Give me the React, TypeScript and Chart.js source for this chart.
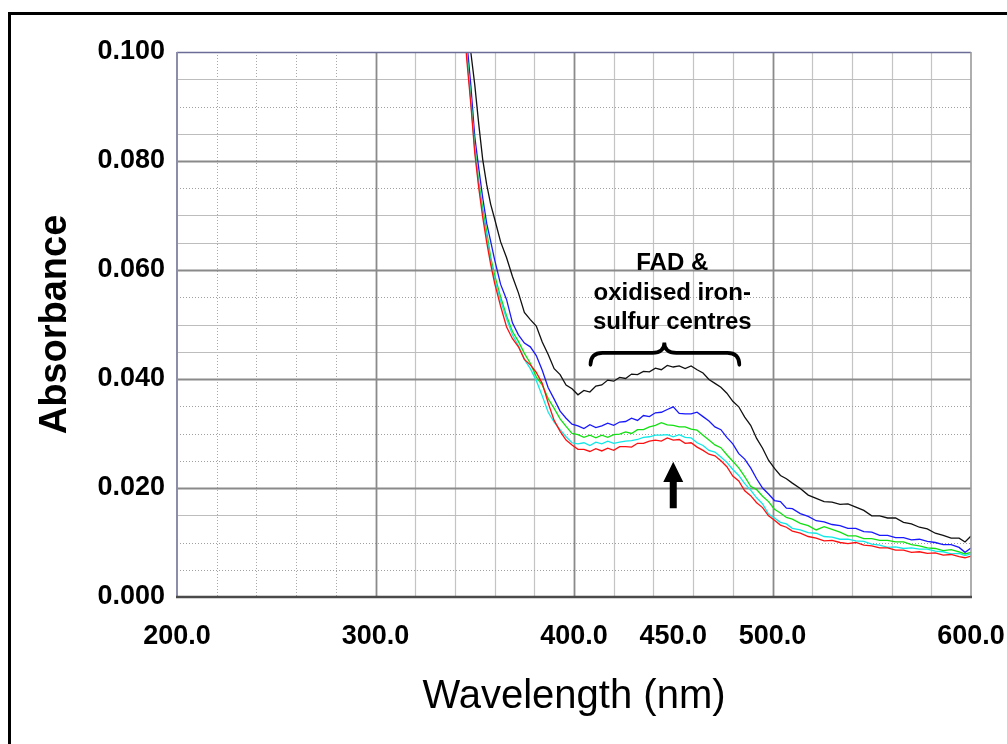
import React, { useEffect, useRef } from "react";
import { Chart, registerables } from "chart.js";

Chart.register(...registerables);

const FONT = '"Liberation Sans", Arial, Helvetica, sans-serif';

const wavelengths = [
  342, 346, 348, 350, 352, 354, 356, 358, 360,
  363, 366, 369, 372, 375, 378, 381, 384, 387, 390,
  393, 396, 399, 402, 405, 408, 411, 414, 417, 420,
  423, 426, 429, 432, 435, 438, 441, 444, 447, 450,
  453, 456, 459, 462, 465, 468, 471, 474, 477, 480,
  483, 486, 489, 492, 495, 498, 501, 504, 507, 510,
  514, 518, 522, 526, 530, 534, 538, 542, 546, 550,
  554, 558, 562, 566, 570, 574, 578, 582, 586, 590,
  594, 597, 600,
];

const blackSeries = [
  0.125, 0.107, 0.1, 0.094, 0.0868, 0.0803, 0.0757, 0.0721, 0.0694,
  0.0652, 0.0623, 0.0588, 0.0558, 0.0522, 0.0509, 0.0497, 0.0468, 0.0445, 0.0419,
  0.0408, 0.0389, 0.0382, 0.0371, 0.0379, 0.0376, 0.0387, 0.0389, 0.0398, 0.0396,
  0.0403, 0.0401, 0.0409, 0.0408, 0.0414, 0.0413, 0.042, 0.0417, 0.0425, 0.0422,
  0.0424, 0.0419, 0.0424, 0.0417, 0.0411, 0.0399, 0.0392, 0.0385, 0.0374, 0.0359,
  0.0349, 0.033, 0.0315, 0.0291, 0.0273, 0.0251, 0.0236, 0.0223, 0.0217, 0.0209,
  0.0199, 0.0187, 0.0181, 0.0175, 0.0174, 0.017, 0.0171, 0.0165, 0.0159, 0.0149,
  0.0149, 0.0145, 0.0145, 0.0137, 0.0134, 0.0128, 0.0125, 0.0117, 0.0113, 0.0108,
  0.0108, 0.0101, 0.0112,
];

const blueSeries = [
  0.122, 0.102, 0.094, 0.0845, 0.0787, 0.0733, 0.0686, 0.0653, 0.0619,
  0.0574, 0.0546, 0.0503, 0.0481, 0.0466, 0.0459, 0.0443, 0.0416, 0.0384, 0.0363,
  0.0341, 0.0328, 0.0317, 0.0314, 0.0309, 0.0316, 0.0311, 0.0314, 0.0319, 0.0315,
  0.0321, 0.0322, 0.0328, 0.0324, 0.0333, 0.0331, 0.0338, 0.0339, 0.0344, 0.0349,
  0.0337, 0.0336, 0.0336, 0.0339, 0.0331, 0.0323, 0.0312, 0.0307, 0.0293, 0.0281,
  0.0263, 0.0253, 0.0237, 0.0217, 0.02, 0.0189, 0.0177, 0.0175, 0.0163, 0.0162,
  0.0153, 0.0148, 0.014, 0.0138, 0.0133, 0.0131, 0.0126, 0.0126, 0.012, 0.0119,
  0.0113, 0.0113, 0.0109, 0.0109, 0.0105, 0.0106, 0.0102, 0.01, 0.0096, 0.0096,
  0.0091, 0.0082, 0.009,
];

const greenSeries = [
  0.121, 0.1, 0.0915, 0.0826, 0.0762, 0.0713, 0.0671, 0.0624, 0.0591,
  0.0551, 0.0516, 0.0487, 0.0469, 0.0447, 0.0429, 0.0404, 0.0389, 0.0364, 0.0346,
  0.0327, 0.0313, 0.03, 0.0298, 0.0293, 0.0297, 0.0292, 0.0297, 0.0293, 0.0298,
  0.0299, 0.0303, 0.03, 0.0307, 0.0307, 0.0312, 0.0315, 0.032, 0.0316, 0.0315,
  0.0312, 0.0312, 0.0308, 0.0306, 0.0297, 0.0288, 0.0279, 0.0274, 0.0261, 0.0249,
  0.0237, 0.0221, 0.0203, 0.0197, 0.0185, 0.0175, 0.0161, 0.0154, 0.0146, 0.0143,
  0.0135, 0.0131, 0.0123, 0.0129, 0.0124, 0.0119, 0.0112, 0.0112, 0.0107, 0.0107,
  0.0104, 0.0104, 0.0101, 0.0101, 0.0096, 0.0094, 0.009, 0.0089, 0.0085, 0.0087,
  0.0083, 0.0079, 0.0082,
];

const cyanSeries = [
  0.12, 0.0995, 0.091, 0.082, 0.0756, 0.0704, 0.0661, 0.0617, 0.0583,
  0.0544, 0.0511, 0.0481, 0.0461, 0.0436, 0.0419, 0.0397, 0.0369, 0.0339, 0.0321,
  0.0307, 0.0294, 0.0283, 0.0281, 0.0283, 0.0278, 0.0284, 0.0281, 0.0286, 0.0282,
  0.0284, 0.0286, 0.0287, 0.0289, 0.0293, 0.0294, 0.0297, 0.0297, 0.0298, 0.0294,
  0.0298, 0.0293, 0.0292, 0.0283, 0.0278, 0.0269, 0.0266, 0.0257, 0.0247, 0.0234,
  0.0223, 0.0208, 0.0196, 0.0182, 0.0171, 0.0152, 0.0145, 0.0137, 0.0134, 0.0126,
  0.0123, 0.0118, 0.0117, 0.0111, 0.011, 0.0106, 0.0106, 0.0103, 0.0102, 0.0097,
  0.0095, 0.0091, 0.0092, 0.0089, 0.009, 0.0088, 0.0088, 0.0084, 0.0083, 0.0079,
  0.008, 0.0076, 0.0079,
];

const redSeries = [
  0.119, 0.0985, 0.0905, 0.0815, 0.0751, 0.0697, 0.0651, 0.0611, 0.0576,
  0.0534, 0.0496, 0.0474, 0.0459, 0.0436, 0.0426, 0.0412, 0.0392, 0.0356, 0.0324,
  0.0304, 0.0288, 0.0279, 0.0271, 0.0271, 0.0267, 0.0272, 0.0268, 0.0273, 0.0269,
  0.0276, 0.0276, 0.0275, 0.0282, 0.0282, 0.0286, 0.0288, 0.0286, 0.0292, 0.0288,
  0.0289, 0.0282, 0.0283, 0.0275, 0.0269, 0.0262, 0.0259, 0.025, 0.0239, 0.0222,
  0.0213, 0.0195, 0.0186, 0.0173, 0.0164, 0.0149, 0.0141, 0.0132, 0.0128, 0.0121,
  0.0117, 0.0111, 0.0108, 0.0103, 0.0104, 0.01, 0.0098, 0.01, 0.0095, 0.0094,
  0.009, 0.009, 0.0086, 0.0086, 0.0082, 0.0083, 0.008, 0.0081, 0.0077, 0.0078,
  0.0074, 0.0072, 0.0075,
];

const xTickValues = [200, 300, 400, 450, 500, 600];
const yTickValues = [0, 0.02, 0.04, 0.06, 0.08, 0.1];
const annotationLines = ["FAD &", "oxidised iron-", "sulfur centres"];
const xTitle = "Wavelength (nm)";
const yTitle = "Absorbance";

// minor horizontal gridline values that are dotted (others solid)
const dottedMinorY = [0.09, 0.075, 0.055, 0.035, 0.03, 0.025, 0.01, 0.005];

const toPoints = (vals: number[]) => wavelengths.map((w, i) => ({ x: w, y: vals[i] }));

const framePlugin = {
  id: "frame",
  beforeDraw(chart: any) {
    const { ctx, width, height } = chart;
    ctx.save();
    ctx.fillStyle = "#ffffff";
    ctx.fillRect(0, 0, width, height);
    ctx.fillStyle = "#000000";
    ctx.fillRect(8, 12, width - 8, 3);
    ctx.fillRect(8, 12, 3, height - 12);
    ctx.restore();
  },
};

const gridPlugin = {
  id: "customGrid",
  beforeDatasetsDraw(chart: any) {
    const { ctx, chartArea: a, scales } = chart;
    const x = scales.x;
    const y = scales.y;
    ctx.save();
    const vline = (v: number, color: string, w: number, dash: number[]) => {
      const px = Math.round(x.getPixelForValue(v)) + 0.5;
      ctx.beginPath();
      ctx.setLineDash(dash);
      ctx.strokeStyle = color;
      ctx.lineWidth = w;
      ctx.moveTo(px, a.top);
      ctx.lineTo(px, a.bottom);
      ctx.stroke();
    };
    const hline = (v: number, color: string, w: number, dash: number[]) => {
      const py = Math.round(y.getPixelForValue(v)) + 0.5;
      ctx.beginPath();
      ctx.setLineDash(dash);
      ctx.strokeStyle = color;
      ctx.lineWidth = w;
      ctx.moveTo(a.left, py);
      ctx.lineTo(a.right, py);
      ctx.stroke();
    };
    // minor verticals every 20 nm
    for (let i = 11; i < 30; i++) {
      const v = i * 20;
      if (v % 100 === 0) continue;
      if (v < 300) vline(v, "#a8a8a8", 1, [1, 2]);
      else vline(v, "#c4c4c4", 1.2, []);
    }
    // minor horizontals every 0.005
    for (let i = 1; i < 20; i++) {
      if (i % 4 === 0) continue;
      const v = i * 0.005;
      const dotted = dottedMinorY.some((d) => Math.abs(d - v) < 1e-6);
      if (dotted) hline(v, "#a0a0a0", 1, [1, 2]);
      else hline(v, "#bdbdbd", 1.2, []);
    }
    // majors
    [300, 400, 500].forEach((v) => vline(v, "#8a8a8a", 1.8, []));
    [0.02, 0.04, 0.06, 0.08].forEach((v) => hline(v, "#8a8a8a", 1.8, []));
    ctx.setLineDash([]);
    ctx.restore();
  },
  afterDatasetsDraw(chart: any) {
    const { ctx, chartArea: a, scales } = chart;
    const x = scales.x;
    const y = scales.y;
    ctx.save();
    // plot border
    ctx.setLineDash([]);
    ctx.lineWidth = 1.6;
    ctx.strokeStyle = "#6c6c98";
    ctx.beginPath();
    ctx.moveTo(a.left, a.top + 0.5);
    ctx.lineTo(a.right, a.top + 0.5);
    ctx.stroke();
    ctx.strokeStyle = "#8c8cab";
    ctx.lineWidth = 2;
    ctx.beginPath();
    ctx.moveTo(a.left, a.top);
    ctx.lineTo(a.left, a.bottom);
    ctx.stroke();
    ctx.strokeStyle = "#9a9a9a";
    ctx.lineWidth = 1.6;
    ctx.beginPath();
    ctx.moveTo(a.right, a.top);
    ctx.lineTo(a.right, a.bottom);
    ctx.stroke();
    ctx.strokeStyle = "#4a4a4a";
    ctx.lineWidth = 2.6;
    ctx.beginPath();
    ctx.moveTo(a.left - 1, a.bottom);
    ctx.lineTo(a.right + 1, a.bottom);
    ctx.stroke();

    // annotation text
    ctx.fillStyle = "#000";
    ctx.font = `bold 24px ${FONT}`;
    ctx.textAlign = "center";
    ctx.textBaseline = "middle";
    const tx = x.getPixelForValue(449.5);
    const textLevels = [0.0612, 0.0558, 0.0504];
    annotationLines.forEach((t, i) => {
      ctx.fillText(t, tx, y.getPixelForValue(textLevels[i]));
    });

    // curly brace
    const bl = x.getPixelForValue(408.3);
    const bc = x.getPixelForValue(445.5);
    const br = x.getPixelForValue(483.3);
    const yEnd = y.getPixelForValue(0.0426);
    const yMid = y.getPixelForValue(0.0448);
    const yPeak = y.getPixelForValue(0.0467);
    const r = 12;
    ctx.strokeStyle = "#000";
    ctx.lineWidth = 3.6;
    ctx.lineCap = "round";
    ctx.beginPath();
    ctx.moveTo(bl, yEnd);
    ctx.quadraticCurveTo(bl, yMid, bl + r, yMid);
    ctx.lineTo(bc - r, yMid);
    ctx.quadraticCurveTo(bc, yMid, bc, yPeak);
    ctx.quadraticCurveTo(bc, yMid, bc + r, yMid);
    ctx.lineTo(br - r, yMid);
    ctx.quadraticCurveTo(br, yMid, br, yEnd);
    ctx.stroke();

    // arrow
    const ax = x.getPixelForValue(450);
    const tip = y.getPixelForValue(0.0248);
    const headBase = y.getPixelForValue(0.0211);
    const bottom = y.getPixelForValue(0.0163);
    ctx.fillStyle = "#000";
    ctx.beginPath();
    ctx.moveTo(ax, tip);
    ctx.lineTo(ax + 10, headBase);
    ctx.lineTo(ax + 3.5, headBase);
    ctx.lineTo(ax + 3.5, bottom);
    ctx.lineTo(ax - 3.5, bottom);
    ctx.lineTo(ax - 3.5, headBase);
    ctx.lineTo(ax - 10, headBase);
    ctx.closePath();
    ctx.fill();
    ctx.restore();
  },
};

export default function App() {
  const canvasRef = useRef<HTMLCanvasElement | null>(null);

  useEffect(() => {
    const canvas = canvasRef.current;
    if (!canvas) return;
    const mk = (vals: number[], color: string) => ({
      data: toPoints(vals),
      borderColor: color,
      borderWidth: 1.3,
      pointRadius: 0,
      tension: 0,
      fill: false,
    });
    const chart = new Chart(canvas, {
      type: "line",
      data: {
        datasets: [
          mk(redSeries, "#ff1010"),
          mk(cyanSeries, "#10e8e8"),
          mk(greenSeries, "#10e010"),
          mk(blueSeries, "#1818ff"),
          mk(blackSeries, "#101010"),
        ],
      },
      options: {
        animation: false,
        responsive: false,
        devicePixelRatio: 1,
        layout: { padding: { left: 0, top: 52, right: 36, bottom: 0 } },
        plugins: { legend: { display: false }, tooltip: { enabled: false } },
        scales: {
          x: {
            type: "linear",
            min: 200,
            max: 600,
            grid: { display: false, drawTicks: false },
            border: { display: false },
            afterBuildTicks: (s: any) => {
              s.ticks = xTickValues.map((v) => ({ value: v }));
            },
            afterFit: (s: any) => {
              s.height = 147;
              s.paddingLeft = 0;
              s.paddingRight = 0;
            },
            ticks: {
              autoSkip: false,
              maxRotation: 0,
              minRotation: 0,
              padding: 23,
              color: "#000",
              font: { family: FONT, size: 27, weight: "bold" },
              callback: (v: any) => Number(v).toFixed(1),
            },
            title: {
              display: true,
              text: xTitle,
              color: "#000",
              font: { family: FONT, size: 40, weight: "normal" },
              padding: { top: 0, bottom: 23 },
            },
          },
          y: {
            type: "linear",
            min: 0,
            max: 0.1,
            grid: { display: false, drawTicks: false },
            border: { display: false },
            afterBuildTicks: (s: any) => {
              s.ticks = yTickValues.map((v) => ({ value: v }));
            },
            afterFit: (s: any) => {
              s.width = 177;
              s.paddingTop = 0;
              s.paddingBottom = 0;
            },
            ticks: {
              padding: 12,
              color: "#000",
              font: { family: FONT, size: 27, weight: "bold" },
              callback: (v: any) => Number(v).toFixed(3),
            },
            title: {
              display: true,
              text: yTitle,
              color: "#000",
              font: { family: FONT, size: 38, weight: "bold" },
              padding: { top: 33, bottom: 0 },
            },
          },
        },
      },
      plugins: [framePlugin, gridPlugin],
    } as any);
    return () => chart.destroy();
  }, []);

  return (
    <div style={{ position: "fixed", left: 0, top: 0, width: 1007, height: 744, overflow: "hidden", background: "#fff" }}>
      <canvas ref={canvasRef} width={1007} height={744} style={{ width: 1007, height: 744, display: "block" }} />
    </div>
  );
}
